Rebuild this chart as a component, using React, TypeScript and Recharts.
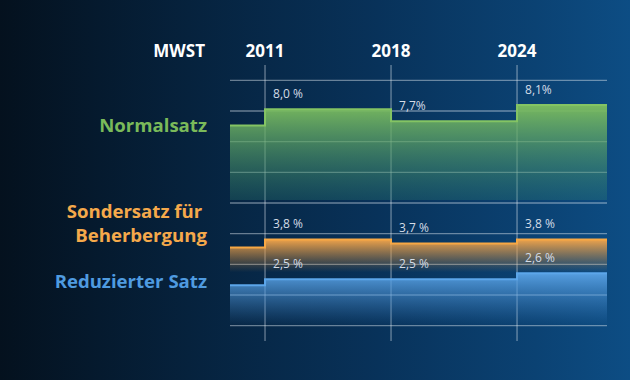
import React from 'react'
import { ComposedChart, Area, XAxis, YAxis, CartesianGrid, LabelList } from 'recharts'

// MWST-Sätze (Schweiz), Wert vor 2011 zuerst
const years = ['2011', '2018', '2024']
const normal = [7.6, 8.0, 7.7, 8.1]
const special = [3.6, 3.8, 3.7, 3.8]
const reduced = [2.4, 2.5, 2.5, 2.6]
const normalLabels = ['8,0 %', '7,7%', '8,1%']
const specialLabels = ['3,8 %', '3,7 %', '3,8 %']
const reducedLabels = ['2,5 %', '2,5 %', '2,6 %']
const gridTicks = [0, 1, 2, 3, 4, 5, 6, 7, 8]
const yearTicks = [0, 1, 2]

// x extent of the step band before the first and after the last year
const LEAD = -0.278
const TAIL = 2.714

const rows = [
  { x: LEAD, normal: normal[0], special: special[0], reduced: reduced[0] },
  ...years.map((year, i) => ({
    x: i,
    year,
    normal: normal[i + 1],
    special: special[i + 1],
    reduced: reduced[i + 1],
    normalLabel: normalLabels[i],
    specialLabel: specialLabels[i],
    reducedLabel: reducedLabels[i],
  })),
  { x: TAIL, normal: normal[3], special: special[3], reduced: reduced[3] },
]

const FONT = '"Open Sans", "Noto Sans", sans-serif'

const renderValue = (props: any) => {
  const { x, y, value } = props
  if (!value) return null
  return (
    <text x={x + 8} y={y - 11} fill="#d4dce6" fontSize={12} fontFamily={FONT}>
      {value}
    </text>
  )
}

const sideLabel = (text: string, top: number, color: string, extra: React.CSSProperties = {}) => (
  <div
    style={{
      position: 'absolute',
      top,
      right: 630 - 207,
      color,
      fontFamily: FONT,
      fontWeight: 700,
      fontSize: 18.6,
      lineHeight: '18px',
      textAlign: 'right',
      whiteSpace: 'pre',
      ...extra,
    }}
  >
    {text}
  </div>
)

export default function App() {
  return (
    <div
      style={{
        position: 'absolute',
        left: 0,
        top: 0,
        width: 630,
        height: 380,
        overflow: 'hidden',
        background: 'linear-gradient(90deg, #04111e 0%, #06223d 30%, #08325a 60%, #0b4273 85%, #0d4d84 100%)',
      }}
    >
      <ComposedChart width={630} height={380} data={rows} margin={{ top: 35, right: 23, left: 230, bottom: 39 }}>
        <defs>
          <linearGradient id="gNormal" x1="0" y1="0" x2="0" y2="1">
            <stop offset="0%" stopColor="#7cbd5e" stopOpacity={0.97} />
            <stop offset="100%" stopColor="#2f7f70" stopOpacity={0.3} />
          </linearGradient>
          <linearGradient id="gSpecial" x1="0" y1="0" x2="0" y2="1">
            <stop offset="0%" stopColor="#f5a64a" stopOpacity={0.97} />
            <stop offset="100%" stopColor="#c9883e" stopOpacity={0} />
          </linearGradient>
          <linearGradient id="gReduced" x1="0" y1="0" x2="0" y2="1">
            <stop offset="0%" stopColor="#5aa3e6" stopOpacity={0.95} />
            <stop offset="100%" stopColor="#3b7fc0" stopOpacity={0} />
          </linearGradient>
        </defs>
        <CartesianGrid
          yAxisId="grid"
          horizontalValues={gridTicks}
          verticalValues={yearTicks}
          stroke="rgba(225,232,240,0.45)"
          strokeWidth={1.3}
        />
        <XAxis
          dataKey="x"
          type="number"
          orientation="top"
          domain={[LEAD, TAIL]}
          allowDataOverflow
          ticks={yearTicks}
          tickFormatter={(v: number) => years[v] ?? ''}
          axisLine={false}
          tickLine={false}
          tickSize={0}
          tickMargin={8}
          height={30}
          tick={{ fill: '#ffffff', fontSize: 17, fontWeight: 700, fontFamily: FONT }}
        />
        <YAxis yAxisId="grid" hide type="number" domain={[-0.5, 8.5]} ticks={gridTicks} allowDataOverflow />
        <YAxis yAxisId="normal" hide type="number" domain={[2.28, 9.09]} allowDataOverflow />
        <YAxis yAxisId="special" hide type="number" domain={[1.26, 8.16]} allowDataOverflow />
        <YAxis yAxisId="reduced" hide type="number" domain={[1.47, 6.07]} allowDataOverflow />
        <Area
          yAxisId="normal"
          type="stepAfter"
          dataKey="normal"
          baseValue={5.76}
          stroke="#84c463"
          strokeWidth={2}
          fill="url(#gNormal)"
          fillOpacity={1}
          isAnimationActive={false}
        >
          <LabelList dataKey="normalLabel" content={renderValue} />
        </Area>
        <Area
          yAxisId="special"
          type="stepAfter"
          dataKey="special"
          baseValue={2.98}
          stroke="#f7a844"
          strokeWidth={2}
          fill="url(#gSpecial)"
          fillOpacity={1}
          isAnimationActive={false}
        >
          <LabelList dataKey="specialLabel" content={renderValue} />
        </Area>
        <Area
          yAxisId="reduced"
          type="stepAfter"
          dataKey="reduced"
          baseValue={1.72}
          stroke="#5ca6ea"
          strokeWidth={2}
          fill="url(#gReduced)"
          fillOpacity={1}
          isAnimationActive={false}
        >
          <LabelList dataKey="reducedLabel" content={renderValue} />
        </Area>
      </ComposedChart>
      {sideLabel('MWST', 42, '#ffffff', { fontSize: 17, lineHeight: '17px', right: 630 - 205 })}
      {sideLabel('Normalsatz', 116, '#7aba5a')}
      {sideLabel('Sondersatz für \nBeherbergung', 199, '#f5a94b', { lineHeight: '24px' })}
      {sideLabel('Reduzierter Satz', 272, '#4f9be0')}
    </div>
  )
}
